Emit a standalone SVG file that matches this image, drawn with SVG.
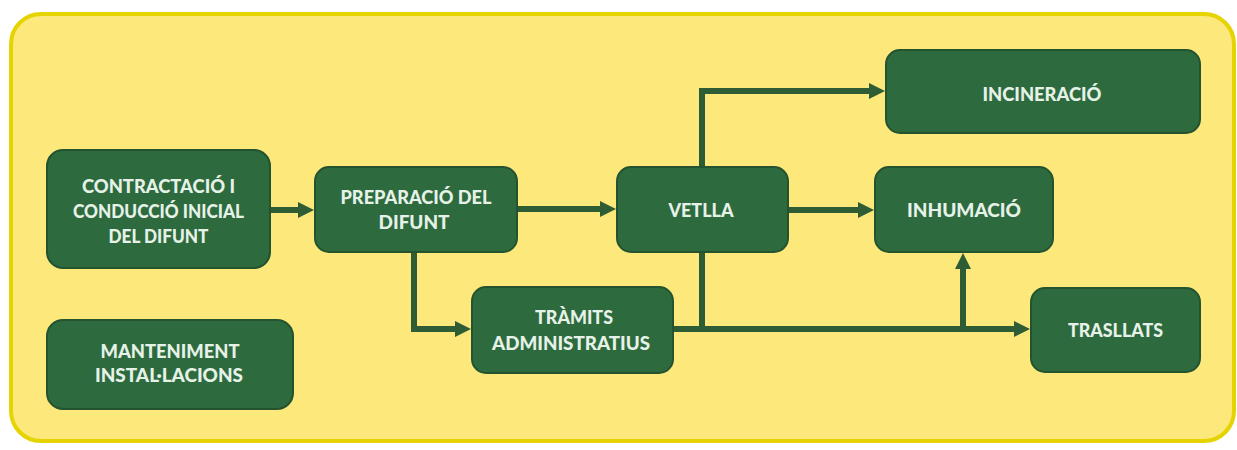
<svg xmlns="http://www.w3.org/2000/svg" width="1237" height="450" viewBox="0 0 1237 450">
<style>
.node rect{fill:#2D6A3E;stroke:#24532F;stroke-width:2}
.node text{fill:#E6F2E8;font-family:Lato,"Open Sans","Liberation Sans",sans-serif;font-weight:900;font-size:18px;text-anchor:middle}
.conn path{fill:none;stroke:#2E5C34;stroke-width:6}
</style>
<defs>
<marker id="ah" viewBox="0 0 16 16" refX="1" refY="8" markerWidth="16" markerHeight="16" markerUnits="userSpaceOnUse" orient="auto">
<path d="M0,0 L16,8 L0,16 z" fill="#2E5C34"/>
</marker>
</defs>
<rect width="1237" height="450" fill="#FFFFFF"/>
<rect x="11" y="14" width="1223" height="427" rx="30" fill="#FCE87B" stroke="#E6D402" stroke-width="4"/>
<g class="conn">
<path d="M270,210 H299" marker-end="url(#ah)"/>
<path d="M517,209 H601" marker-end="url(#ah)"/>
<path d="M414,252 V329 H456" marker-end="url(#ah)"/>
<path d="M673,329 H1015" marker-end="url(#ah)"/>
<path d="M702,252 V329"/>
<path d="M702,167 V91 H870" marker-end="url(#ah)"/>
<path d="M788,210 H859" marker-end="url(#ah)"/>
<path d="M963,329 V268" marker-end="url(#ah)"/>
</g>
<g id="contractacio" class="node">
<rect x="47" y="150" width="223" height="118" rx="16"/>
<text x="158.5" y="193" textLength="153" lengthAdjust="spacingAndGlyphs">CONTRACTACIÓ I</text>
<text x="158.5" y="218" textLength="171" lengthAdjust="spacingAndGlyphs">CONDUCCIÓ INICIAL</text>
<text x="158.5" y="243" textLength="100" lengthAdjust="spacingAndGlyphs">DEL DIFUNT</text>
</g>
<g id="manteniment" class="node">
<rect x="47" y="320" width="246" height="89" rx="16"/>
<text x="170" y="358" textLength="139" lengthAdjust="spacingAndGlyphs">MANTENIMENT</text>
<text x="169" y="382" textLength="148" lengthAdjust="spacingAndGlyphs">INSTAL·LACIONS</text>
</g>
<g id="preparacio" class="node">
<rect x="315" y="167" width="202" height="85" rx="14"/>
<text x="416" y="204" textLength="151" lengthAdjust="spacingAndGlyphs">PREPARACIÓ DEL</text>
<text x="414" y="229" textLength="71" lengthAdjust="spacingAndGlyphs">DIFUNT</text>
</g>
<g id="vetlla" class="node">
<rect x="617" y="167" width="171" height="85" rx="14"/>
<text x="701" y="217" textLength="65" lengthAdjust="spacingAndGlyphs">VETLLA</text>
</g>
<g id="tramits" class="node">
<rect x="472" y="287" width="201" height="86" rx="14"/>
<text x="574" y="324" textLength="78" lengthAdjust="spacingAndGlyphs">TRÀMITS</text>
<text x="571" y="350" textLength="158" lengthAdjust="spacingAndGlyphs">ADMINISTRATIUS</text>
</g>
<g id="incineracio" class="node">
<rect x="886" y="50" width="314" height="83" rx="14"/>
<text x="1042" y="101" textLength="119" lengthAdjust="spacingAndGlyphs">INCINERACIÓ</text>
</g>
<g id="inhumacio" class="node">
<rect x="875" y="167" width="178" height="85" rx="14"/>
<text x="964" y="217" textLength="114" lengthAdjust="spacingAndGlyphs">INHUMACIÓ</text>
</g>
<g id="trasllats" class="node">
<rect x="1031" y="288" width="169" height="84" rx="14"/>
<text x="1115.5" y="337" textLength="95" lengthAdjust="spacingAndGlyphs">TRASLLATS</text>
</g>
</svg>
